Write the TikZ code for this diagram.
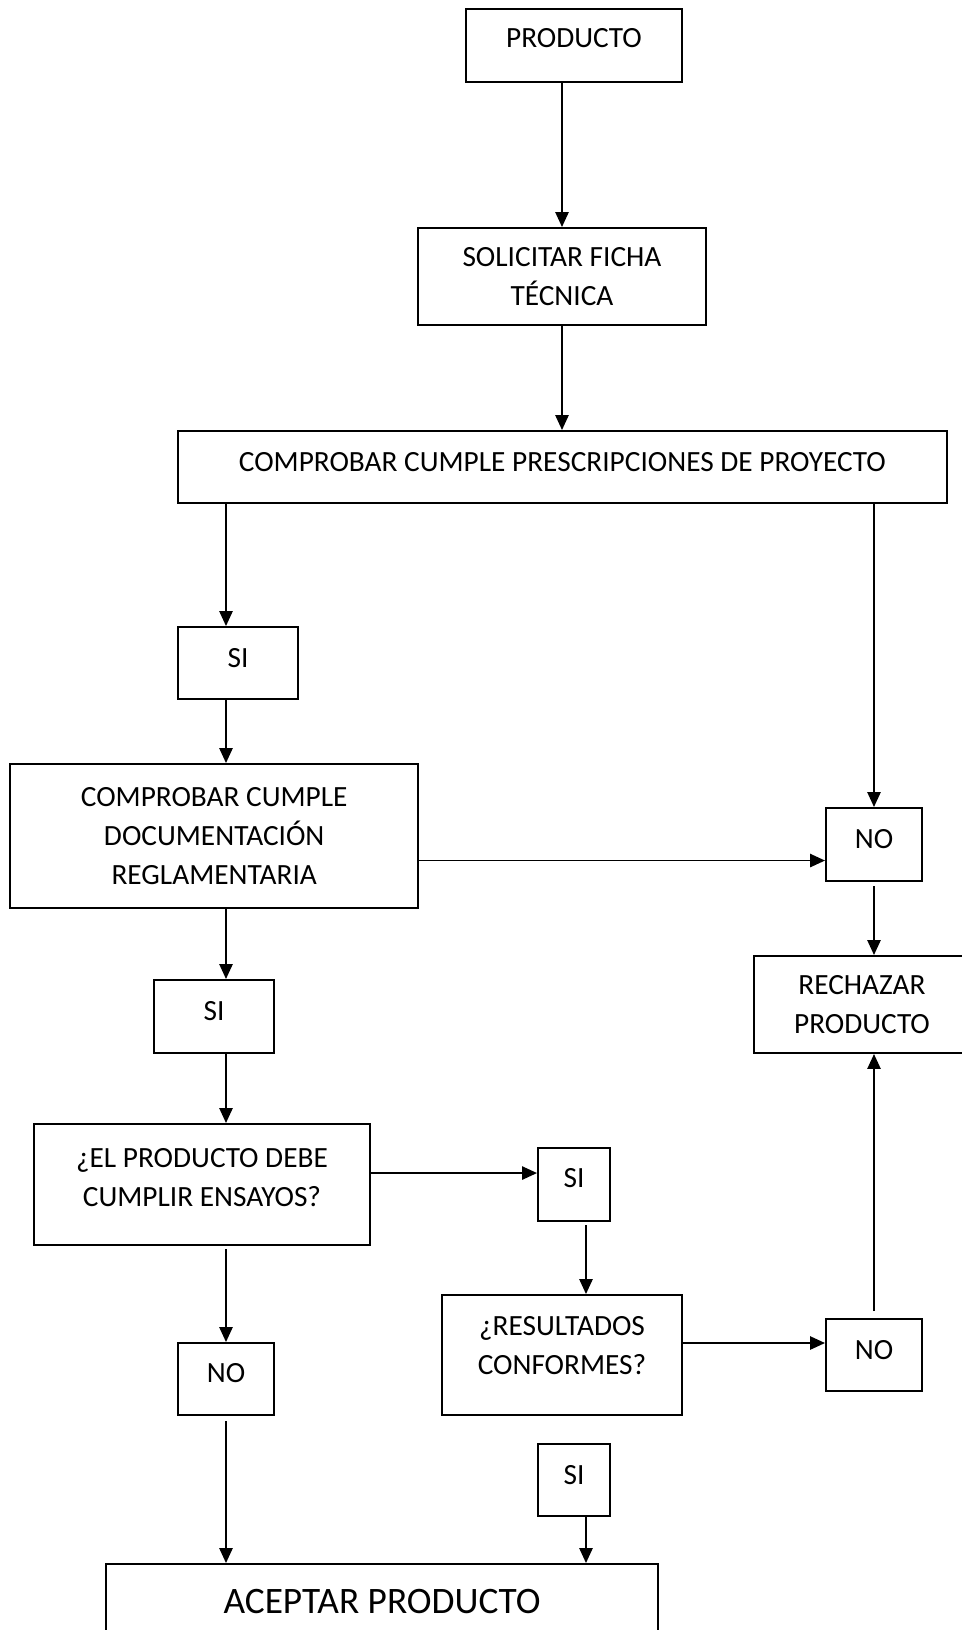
\documentclass[tikz,border=0pt]{standalone}
\usepackage{fontspec}
\setmainfont{Carlito}
\usetikzlibrary{arrows.meta}

\begin{document}
\begin{tikzpicture}[x=0.375pt, y=-0.375pt,
        caja/.style={draw, line width=0.75pt, align=center, inner sep=2pt,
            font=\fontsize{11}{14.6}\selectfont},
        arriba/.style={text depth=#1},
        flecha/.style={-{Triangle[length=5.6pt,width=5pt]}, line width=0.6pt}]

        % --- fondo y márgenes ---
        \path[use as bounding box, fill=white] (0,0) rectangle (962,1630);

        % --- columnas de las flechas ---
        \coordinate (colL) at (226,0);
        \coordinate (colM) at (586,0);

        % --- cajas ---
        \node[caja, arriba=5.6pt, minimum width=81pt, minimum height=27.4pt] (producto) at (574,45.5) {PRODUCTO};
        \node[caja, minimum width=108pt, minimum height=36.4pt] (ficha) at (562,276.5) {SOLICITAR FICHA\\TÉCNICA};
        \node[caja, arriba=3.75pt, minimum width=288.2pt, minimum height=27pt] (prescrip) at (562.3,467) {COMPROBAR CUMPLE PRESCRIPCIONES DE PROYECTO};
        \node[caja, arriba=3.75pt, minimum width=45pt, minimum height=27pt] (si1) at (238,663) {SI};
        \node[caja, minimum width=152.9pt, minimum height=54pt] (docum) at (214.2,836) {COMPROBAR CUMPLE\\DOCUMENTACIÓN\\REGLAMENTARIA};
        \node[caja, arriba=4.1pt, minimum width=36pt, minimum height=27.4pt] (no1) at (874,844.5) {NO};
        \node[caja, minimum width=81pt, minimum height=36.4pt] (rechazo) at (862,1004.5) {RECHAZAR\\PRODUCTO};
        \node[caja, arriba=4.1pt, minimum width=45pt, minimum height=27.4pt] (si2) at (214,1016.5) {SI};
        \node[caja, arriba=5.6pt, minimum width=126pt, minimum height=45.4pt] (ensayos) at (202,1184.5) {¿EL PRODUCTO DEBE\\CUMPLIR ENSAYOS?};
        \node[caja, arriba=4.9pt, minimum width=27pt, minimum height=27.4pt] (si3) at (574,1184.5) {SI};
        \node[caja, arriba=7.5pt, minimum width=90pt, minimum height=45pt] (resultados) at (562,1355) {¿RESULTADOS\\CONFORMES?};
        \node[caja, arriba=4.1pt, minimum width=36pt, minimum height=27pt] (no2) at (874,1355) {NO};
        \node[caja, arriba=4.5pt, minimum width=36pt, minimum height=27pt] (no3) at (226,1379) {NO};
        \node[caja, arriba=4.1pt, minimum width=27pt, minimum height=27.2pt] (si4) at (574,1480) {SI};
        \node[caja, font=\fontsize{14}{17}\selectfont, minimum width=207pt, minimum height=28.5pt] (aceptar) at (382,1602) {ACEPTAR PRODUCTO};

        % --- flechas verticales ---
        \draw[flecha] (producto.south -| ficha.north) -- (ficha.north);
        \draw[flecha] (ficha.south) -- (ficha.south |- prescrip.north);
        \draw[flecha] (prescrip.south -| colL) -- (si1.north -| colL);
        \draw[flecha] (si1.south -| colL) -- (docum.north -| colL);
        \draw[flecha] (docum.south -| colL) -- (si2.north -| colL);
        \draw[flecha] (si2.south -| colL) -- (ensayos.north -| colL);
        \draw[flecha, shorten <=1.2pt] (ensayos.south -| no3.north) -- (no3.north);
        \draw[flecha, shorten <=2pt] (no3.south) -- (aceptar.north -| no3.south);
        \draw[flecha] (prescrip.south -| no1.north) -- (no1.north);
        \draw[flecha, shorten <=1.5pt] (no1.south) -- (no1.south |- rechazo.north);
        \draw[flecha, shorten <=1.2pt] (si3.south -| colM) -- (resultados.north -| colM);
        \draw[flecha] (si4.south -| colM) -- (aceptar.north -| colM);
        \draw[flecha, shorten <=2.6pt] (no2.north) -- (no2.north |- rechazo.south);

        % --- flechas horizontales ---
        \draw[flecha] ([yshift=-9.2pt]docum.east) -- ([yshift=-9.2pt]docum.east -| no1.west);
        \draw[flecha] ([yshift=4.3pt]ensayos.east) -- ([yshift=4.3pt]ensayos.east -| si3.west);
        \draw[flecha] ([yshift=4.5pt]resultados.east) -- ([yshift=4.5pt]resultados.east -| no2.west);

    \end{tikzpicture}
\end{document}
